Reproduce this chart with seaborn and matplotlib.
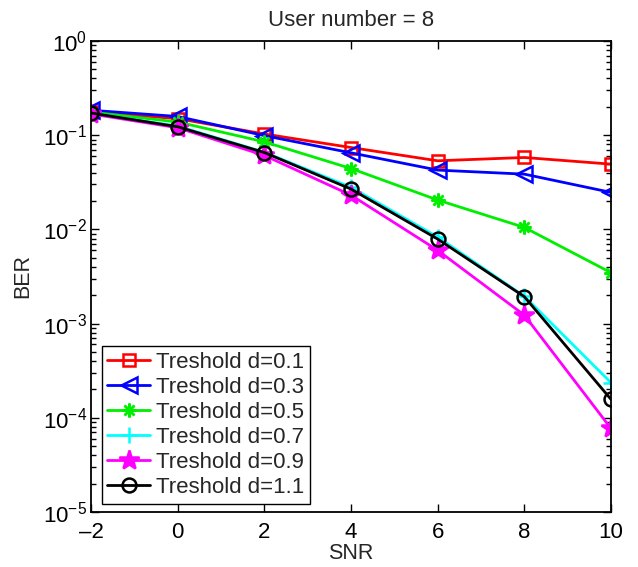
import numpy as np
import pandas as pd
import matplotlib
matplotlib.use("Agg")
import matplotlib.pyplot as plt
import seaborn as sns
from matplotlib.ticker import LogLocator, NullFormatter, FixedLocator, FixedFormatter

snr = [-2, 0, 2, 4, 6, 8, 10]
ber_d01 = [0.176, 0.150, 0.103, 0.074, 0.0535, 0.058, 0.0493]
ber_d03 = [0.184, 0.158, 0.099, 0.065, 0.0426, 0.0386, 0.0247]
ber_d05 = [0.176, 0.138, 0.085, 0.0443, 0.0205, 0.0105, 0.00347]
ber_d07 = [0.172, 0.125, 0.066, 0.028, 0.0083, 0.00195, 0.000236]
ber_d09 = [0.168, 0.120, 0.061, 0.0231, 0.0060, 0.00123, 0.000077]
ber_d11 = [0.172, 0.123, 0.0655, 0.0268, 0.0079, 0.00193, 0.000157]
labels = ["Treshold d=0.1", "Treshold d=0.3", "Treshold d=0.5",
          "Treshold d=0.7", "Treshold d=0.9", "Treshold d=1.1"]
title = "User number = 8"
xlabel = "SNR"
ylabel = "BER"
xticks = [-2, 0, 2, 4, 6, 8, 10]
yticks = [1e-5, 1e-4, 1e-3, 1e-2, 1e-1, 1e0]
ytick_labels = [r"$10^{-5}$", r"$10^{-4}$", r"$10^{-3}$", r"$10^{-2}$", r"$10^{-1}$", r"$10^{0}$"]

sns.set_style("ticks")
plt.rcParams["font.family"] = ["Liberation Sans", "DejaVu Sans"]
plt.rcParams["mathtext.fontset"] = "custom"
plt.rcParams["mathtext.rm"] = "Liberation Sans"
plt.rcParams["mathtext.it"] = "Liberation Sans:italic"
plt.rcParams["mathtext.bf"] = "Liberation Sans:bold"
plt.rcParams["axes.unicode_minus"] = True

fig = plt.figure(figsize=(6.38, 5.67), dpi=100)
ax = fig.add_axes([91/638, 1-512/567, 520/638, 471/567])

series = [ber_d01, ber_d03, ber_d05, ber_d07, ber_d09, ber_d11]
styles = [
    dict(color="#ff0000", marker="s", markersize=8, mfc="none"),
    dict(color="#0000ff", marker="<", markersize=11, mfc="none"),
    dict(color="#00ee00", marker=(8, 2, 0), markersize=10, mfc="none"),
    dict(color="#00ffff", marker="+", markersize=12, mfc="none"),
    dict(color="#ff00ff", marker="*", markersize=15, mfc="#ff00ff"),
    dict(color="#000000", marker="o", markersize=10, mfc="none"),
]
for vals, lab, st in zip(series, labels, styles):
    df = pd.DataFrame({"SNR": snr, "BER": vals})
    sns.lineplot(data=df, x="SNR", y="BER", ax=ax, color=st["color"],
                 marker=st["marker"], markersize=st["markersize"],
                 markerfacecolor=st["mfc"], markeredgecolor=st["color"],
                 markeredgewidth=1.8, linewidth=2.0, label=lab)

ax.set_yscale("log")
ax.set_xlim(-2, 10)
ax.set_ylim(1e-5, 1e0)
ax.xaxis.set_major_locator(FixedLocator(xticks))
ax.set_xticklabels([str(t).replace("-", "\u2013") for t in xticks])
ax.yaxis.set_major_locator(FixedLocator(yticks))
ax.yaxis.set_major_formatter(FixedFormatter(ytick_labels))
ax.yaxis.set_minor_locator(LogLocator(base=10, subs=np.arange(2, 10), numticks=20))
ax.yaxis.set_minor_formatter(NullFormatter())

ax.tick_params(axis="both", which="both", direction="in", top=True, right=True,
               colors="black", labelsize=16, width=1.0)
ax.tick_params(axis="both", which="major", length=6)
ax.tick_params(axis="y", which="minor", length=3.5)
ax.tick_params(axis="x", which="major", pad=7)
ax.tick_params(axis="y", which="major", pad=3)
for sp in ax.spines.values():
    sp.set_linewidth(1.3)
    sp.set_color("black")

ax.set_title(title, fontsize=16, pad=11)
ax.set_xlabel(xlabel, fontsize=15.5, labelpad=0)
ax.set_ylabel(ylabel, fontsize=15.5, labelpad=7)

leg = ax.legend(loc="lower left", bbox_to_anchor=(0.021, 0.018), borderaxespad=0,
                fontsize=16, frameon=True, fancybox=False, framealpha=1,
                edgecolor="black", labelspacing=0.18, handlelength=1.9,
                handletextpad=0.3, borderpad=0.25)
leg.get_frame().set_linewidth(1.0)

fig.savefig("out.png", dpi=100)
